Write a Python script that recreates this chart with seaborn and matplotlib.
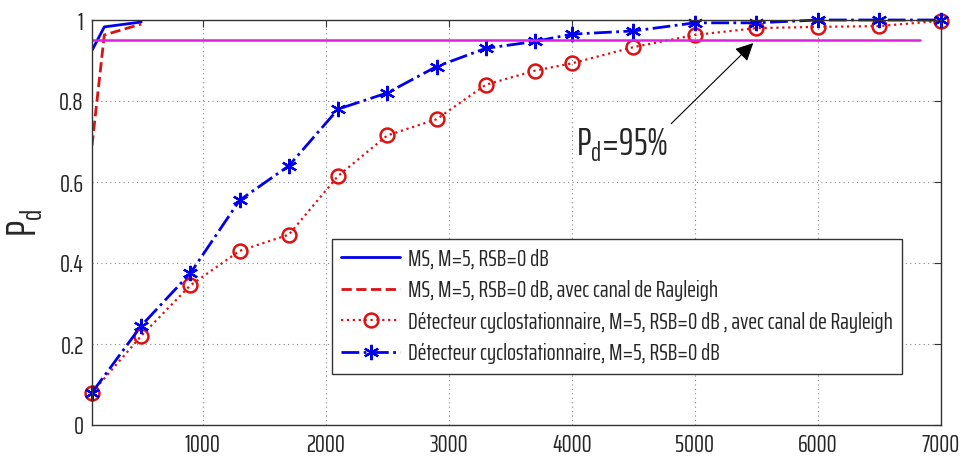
import matplotlib
matplotlib.use("Agg")
import matplotlib.pyplot as plt
import seaborn as sns
import pandas as pd
from matplotlib import font_manager as fm

# ---- data ----
x_ms = [100, 200, 500]
pd_ms = [0.925, 0.983, 0.995]
pd_ms_rayleigh = [0.69, 0.963, 0.99]

x_cyc = [100, 500, 900, 1300, 1700, 2100, 2500, 2900, 3300, 3700, 4000,
         4500, 5000, 5500, 6000, 6500, 7000]
pd_cyc_rayleigh = [0.08, 0.22, 0.345, 0.43, 0.47, 0.615, 0.715, 0.755, 0.84,
                   0.875, 0.893, 0.933, 0.963, 0.98, 0.983, 0.985, 0.998]
pd_cyc = [0.08, 0.245, 0.375, 0.555, 0.64, 0.78, 0.82, 0.885, 0.93, 0.947,
          0.965, 0.973, 0.993, 0.993, 1.0, 1.0, 1.0]

x_thresh = [100, 6830]
pd_thresh = [0.95, 0.95]

labels = ["MS, M=5, RSB=0 dB",
          "MS, M=5, RSB=0 dB, avec canal de Rayleigh",
          "Détecteur cyclostationnaire, M=5, RSB=0 dB , avec canal de Rayleigh",
          "Détecteur cyclostationnaire, M=5, RSB=0 dB"]
x_ticks = [1000, 2000, 3000, 4000, 5000, 6000, 7000]
y_ticks = [0, 0.2, 0.4, 0.6, 0.8, 1]
y_ticklabels = ["0", "0.2", "0.4", "0.6", "0.8", "1"]

sns.set_style("white")
names = {f.name for f in fm.fontManager.ttflist}
cands = ["Saira Extra Condensed", "Saira ExtraCondensed", "Big Shoulders Text",
         "Antonio", "Pathway Gothic One", "Archivo Narrow"]
fam = [f for f in cands if f in names][:1] + ["DejaVu Sans"]
plt.rcParams['font.family'] = fam
plt.rcParams['mathtext.fontset'] = 'custom'
plt.rcParams['mathtext.rm'] = fam[0]

fig = plt.figure(figsize=(9.63, 4.58), dpi=100)
ax = fig.add_axes([92/963, 1-425/458, (941-92)/963, (425-20)/458])

df_ms = pd.DataFrame({"x": x_ms, "a": pd_ms, "b": pd_ms_rayleigh})
df_cyc = pd.DataFrame({"x": x_cyc, "r": pd_cyc_rayleigh, "c": pd_cyc})

sns.lineplot(data=df_ms, x="x", y="a", ax=ax, color="#0000ee", linestyle="-",
             linewidth=2, label=labels[0])
sns.lineplot(data=df_ms, x="x", y="b", ax=ax, color="#dd1111", linestyle="--",
             linewidth=2, label=labels[1])
sns.lineplot(data=df_cyc, x="x", y="r", ax=ax, color="#dd1111", linestyle=":",
             linewidth=1.6, marker="o", markersize=10, markerfacecolor="none",
             markeredgecolor="#dd1111", markeredgewidth=1.8, label=labels[2],
             clip_on=False)
sns.lineplot(data=df_cyc, x="x", y="c", ax=ax, color="#0000ee", linestyle="-.",
             linewidth=2, marker=(6, 2, 0), markersize=11, markeredgecolor="#0000ee",
             markeredgewidth=1.6, label=labels[3], clip_on=False)
ax.plot(x_thresh, pd_thresh, color="#e020e0", linewidth=1.8)

ax.set_xlim(100, 7000)
ax.set_ylim(0, 1)
ax.set_xticks(x_ticks)
ax.set_xticklabels([str(t) for t in x_ticks])
ax.set_yticks(y_ticks)
ax.set_yticklabels(y_ticklabels)
ax.tick_params(direction="in", length=5, labelsize=18, top=True, right=True,
               color="#333333", pad=6)
ax.grid(True, linestyle=(0, (1, 3)), color="#888888", linewidth=0.8)
for s in ax.spines.values():
    s.set_color("#333333")
    s.set_linewidth(1)
ax.set_xlabel("")
ax.set_ylabel("P$_\\mathregular{d}$", fontsize=30, labelpad=10)

ax.annotate("P$_\\mathregular{d}$=95%", xy=(5474, 0.943), xytext=(4030, 0.69),
            fontsize=27, ha="left", va="center",
            arrowprops=dict(arrowstyle="-|>", color="black", lw=0.8,
                            shrinkA=0, shrinkB=0, relpos=(1.0, 1.0)))

leg = ax.legend(loc="upper left", bbox_to_anchor=(332/963, 1-239/458),
                bbox_transform=fig.transFigure, borderaxespad=0,
                fontsize=17, frameon=True,
                fancybox=False, framealpha=1, edgecolor="#333333",
                handlelength=2.5, handletextpad=0.3, borderpad=0.4,
                labelspacing=0.45)
leg.get_frame().set_linewidth(1)

fig.savefig("out.png", dpi=100)
